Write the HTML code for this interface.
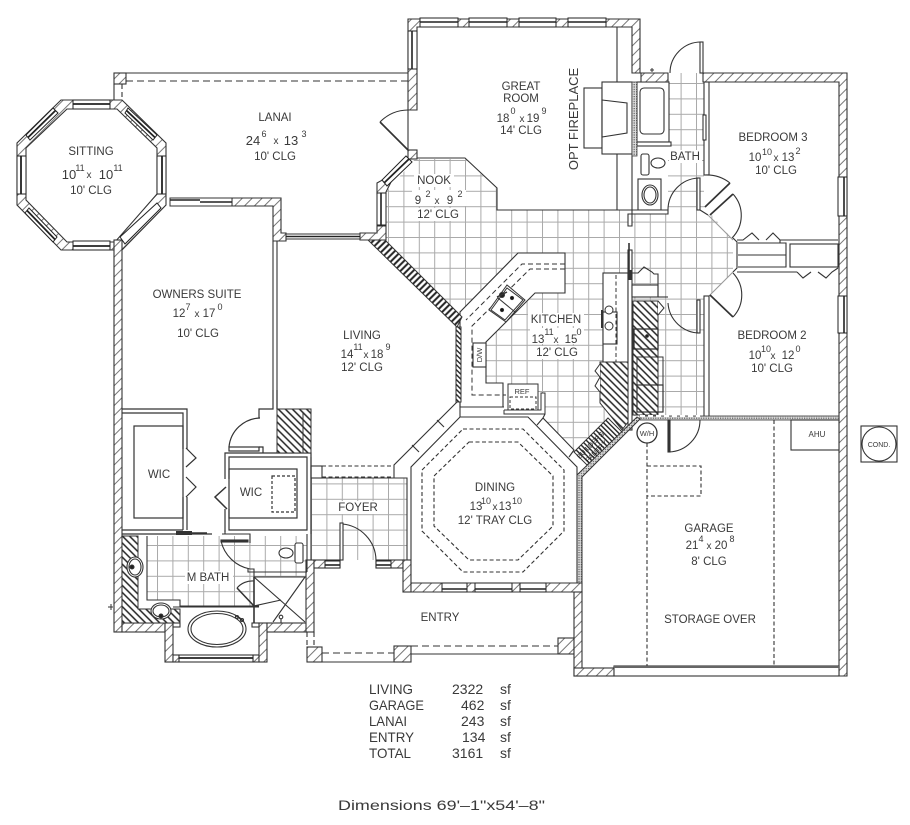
<!DOCTYPE html>
<html><head><meta charset="utf-8"><style>
html,body{margin:0;padding:0;background:#fff;width:910px;height:825px;overflow:hidden}
svg{display:block}
text{font-family:"Liberation Sans",sans-serif;fill:#3a3a3a;font-size:11.5px;text-anchor:middle}
.s{font-size:9px}
.d{font-size:13px}
.t{font-size:14px;text-anchor:start}
</style></head><body>
<svg width="910" height="825" viewBox="0 0 910 825" xmlns="http://www.w3.org/2000/svg">
<defs>
<pattern id="h" width="7" height="7" patternUnits="userSpaceOnUse" patternTransform="rotate(45)"><rect width="7" height="7" fill="#fff"/><line x1="3.500" y1="0" x2="3.500" y2="7" stroke="#777" stroke-width="1"/></pattern>
<pattern id="k" width="5" height="5" patternUnits="userSpaceOnUse" patternTransform="rotate(-45)"><rect width="5" height="5" fill="#fff"/><line x1="2.500" y1="0" x2="2.500" y2="5" stroke="#222" stroke-width="1.500"/></pattern>
<pattern id="b" width="4.500" height="4.500" patternUnits="userSpaceOnUse" patternTransform="rotate(45)"><rect width="5" height="5" fill="#fff"/><line x1="2.250" y1="0" x2="2.250" y2="5" stroke="#222" stroke-width="2"/></pattern>
<pattern id="p" width="3.500" height="3.500" patternUnits="userSpaceOnUse" patternTransform="rotate(-45)"><rect width="4" height="4" fill="#fff"/><line x1="1.750" y1="0" x2="1.750" y2="4" stroke="#222" stroke-width="1.400"/></pattern>
<pattern id="x" width="2.400" height="2.400" patternUnits="userSpaceOnUse"><rect width="2.400" height="2.400" fill="#ddd"/><rect width="1.200" height="1.200" fill="#555"/></pattern>
<pattern id="g" x="3" y="6" width="15.400" height="15.400" patternUnits="userSpaceOnUse"><rect width="16" height="16" fill="#fff"/><path d="M.5 0V16M0 .5H16" stroke="#aaa" stroke-width="1" fill="none"/></pattern>
</defs>
<rect width="910" height="825" fill="#fff"/>

<!-- tile floors -->
<g fill="url(#g)">
<polygon points="386,192 415,159 465,159 497,189 497,210 668,210 668,178 697,178 705,207 733,240 733,272 705,300 705,416 632,416 608,418 574,450 543,418 544,395 486,385 462,317 386,240"/>
<rect x="668" y="73" width="36" height="140"/>
<rect x="311" y="478" width="96" height="82"/>
<polygon points="147,536 307,536 307,577 254,577 254,606 180,606 180,600 147,600"/>
</g>
<!-- label masks over tile -->
<g fill="#fff">
<rect x="414" y="174" width="40" height="13"/><rect x="412" y="190" width="54" height="16"/><rect x="414" y="208" width="48" height="13"/>
<rect x="528" y="313" width="56" height="13"/><rect x="530" y="328" width="54" height="16"/><rect x="533" y="346" width="50" height="13"/>
<rect x="669" y="150" width="33" height="13"/>
<rect x="337" y="501" width="42" height="13"/>
<rect x="185" y="571" width="48" height="13"/>
</g>

<!-- white overlays -->
<g fill="#fff" stroke="#333" stroke-width="1.100">
<rect x="637" y="82" width="32" height="60"/>
<rect x="640" y="88" width="24" height="46" rx="4" fill="none"/>
<rect x="637" y="142" width="34" height="4"/>
<rect x="641" y="154" width="8" height="21" rx="2"/>
<ellipse cx="658" cy="163" rx="7" ry="5"/>
<rect x="638" y="179" width="23" height="31"/>
<ellipse cx="650" cy="195" rx="8" ry="10"/>
<ellipse cx="650" cy="195" rx="6" ry="8" fill="none"/>
<polygon points="632,210 668,210 668,214 632,214"/>
<polygon points="628,214 632,214 632,226 628,226"/>
<polygon points="518,253 565,253 565,293 535,293 486,342 486,383 503,383 503,407 460,407 460,312"/>
<rect x="473" y="343" width="13" height="24"/>
<rect x="603" y="273" width="25" height="90"/>
<rect x="603" y="312" width="14" height="32"/>
<rect x="628" y="250" width="4" height="180" fill="#fff"/>
<rect x="632" y="285" width="26" height="12"/>
<polyline points="632,273 638,273 644,267 652,272 654,274 658,274 658,297" fill="none"/>
</g>
<polyline points="616,275 616,362" fill="none" stroke="#333" stroke-dasharray="4 2.500"/>
<rect x="601" y="310" width="2" height="18" fill="#333"/>
<circle cx="609" cy="310" r="4" fill="#fff" stroke="#333"/><circle cx="609" cy="326" r="4" fill="#fff" stroke="#333"/>
<line x1="629" y1="243" x2="629" y2="270" stroke="#333" stroke-width="1.600"/>
<rect x="628" y="270" width="4" height="10" fill="#333"/>

<!-- kitchen hatch blocks -->
<polygon points="600,362 628,362 628,422 622,430 600,403" fill="url(#k)" stroke="#333"/>
<polyline points="600,364 595,371 600,377 595,386 600,392" fill="#fff" stroke="#333"/>
<rect x="633" y="301" width="25" height="114" fill="url(#k)" stroke="#333"/>
<rect x="634" y="329" width="24" height="20" fill="none" stroke="#333" stroke-width="1.300"/>
<rect x="637" y="357" width="26" height="28" fill="none" stroke="#333"/>
<rect x="637" y="385" width="26" height="27" fill="none" stroke="#333" stroke-width="1.200"/>
<circle cx="647" cy="336" r="1.800" fill="#222"/><polyline points="658,301 664,308 658,315" fill="#fff" stroke="#333"/>
<polygon points="608,418 623,433 587,465 574,452" fill="url(#p)" stroke="#333"/>
<text transform="translate(592,447) rotate(-45)" style="font-size:7px;fill:#222">BUILDERS</text>
<text transform="translate(598,453) rotate(-45)" style="font-size:7px;fill:#222">PANTRY</text>

<!-- kitchen dashes & sink -->
<g fill="none" stroke="#333" stroke-dasharray="5 3">
<polyline points="565,264 522,264 466,320"/>
<polyline points="565,269 530,269 472,326 472,395 506,395"/>
</g>
<g stroke="#333" fill="#fff">
<polygon points="489,310 507,285 525,300 506,322"/>
<polygon points="491,310 507,288 523,300 505,320" fill="none"/>
<line x1="498" y1="298" x2="515" y2="312"/>
<circle cx="502" cy="295" r="2.500" fill="#222"/><circle cx="512" cy="298" r="1.600" fill="#111"/><circle cx="502" cy="310" r="1.600" fill="#111"/>
<line x1="497" y1="297" x2="507" y2="292" stroke-width="1.500"/>
<rect x="508" y="384" width="30" height="26"/>
<rect x="510" y="397" width="26" height="12" fill="none" stroke-dasharray="3 2"/>
<polyline points="504,410 504,414 545,414 545,393 541,393 541,410 504,410" fill="#fff"/>
</g>

<!-- sitting octagon ring -->
<path fill-rule="evenodd" d="M61 100H122L166 143V205L122 250H61L17 205V143ZM67 109L26 148V200L67 242H115L157 194V148L117 109Z" fill="url(#h)" stroke="#333" stroke-width="1.100"/>
<!-- hatched walls -->
<g fill="url(#h)" stroke="#333" stroke-width="1.100">
<polygon points="408,19 640,19 640,73 632,73 632,27 417,27 417,110 408,110"/>
<polygon points="703,73 847,73 847,676 839,676 839,82 703,82"/>
<polygon points="641,73 668,73 668,82 641,82"/>
<rect x="114" y="73" width="12" height="11"/>
<polygon points="360,233 377,233 377,226 386,226 386,240 360,240"/>
<rect x="408" y="150" width="9" height="9"/>
<polygon points="377,183 386,178 391,182 386,192 386,194 377,194"/>
<polygon points="232,198 281,198 281,233 286,233 286,241 273,241 273,206 232,206"/>
<rect x="114" y="240" width="8" height="392"/>
<rect x="122" y="623" width="43" height="9"/>
<rect x="165" y="623" width="8" height="39"/>
<rect x="173" y="655" width="6" height="7"/>
<rect x="253" y="655" width="6" height="7"/>
<rect x="259" y="623" width="8" height="39"/>
<rect x="267" y="623" width="40" height="9"/>
<rect x="306" y="560" width="8" height="72"/>
<rect x="307" y="647" width="15" height="15"/>
<rect x="314" y="560" width="26" height="8"/>
<rect x="376" y="560" width="27" height="8"/>
<rect x="403" y="560" width="8" height="32"/>
<rect x="394" y="646" width="17" height="16"/>
<rect x="558" y="638" width="16" height="16"/>
<polygon points="411,583 582,583 582,592 411,592"/>
<rect x="574" y="592" width="8" height="84"/>
<rect x="574" y="668" width="40" height="8"/>
</g>

<!-- lanai -->
<g fill="none" stroke="#333" stroke-width="1.100">
<polyline points="126,73 408,73"/>
<line x1="114" y1="84" x2="114" y2="100"/>
<line x1="122" y1="84" x2="122" y2="100" stroke-dasharray="5 3"/>
<line x1="126" y1="81" x2="408" y2="81" stroke-dasharray="7 4"/>
</g>
<!-- octagon windows -->
<g stroke="#222" fill="#fff">
<rect x="73" y="100" width="37" height="9"/><line x1="73" y1="104" x2="110" y2="104" stroke-width="1.800"/>
<rect x="73" y="241" width="37" height="9"/><line x1="73" y1="246" x2="110" y2="246" stroke-width="1.800"/>
<rect x="157" y="156" width="9" height="38"/><line x1="162" y1="156" x2="162" y2="194" stroke-width="1.800"/>
<rect x="17" y="156" width="9" height="38"/><line x1="21" y1="156" x2="21" y2="194" stroke-width="1.800"/>
<polygon points="128,108 157,135 153,140 125,113"/><line x1="126.500" y1="110.500" x2="155" y2="137.500" stroke-width="1.800"/>
<polygon points="53,108 26,135 30,140 58,113"/><line x1="55.500" y1="110.500" x2="28" y2="137.500" stroke-width="1.800"/>
<polygon points="29,208 57,237 53,242 25,213"/><line x1="27" y1="210.500" x2="55" y2="239.500" stroke-width="1.800"/>
<polygon points="157,203 120,237 125,244 161,208"/>
</g>
<!-- owners walls -->
<rect x="170" y="198" width="62" height="8" fill="#fff" stroke="#333"/>
<line x1="170" y1="200" x2="200" y2="200" stroke="#222" stroke-width="1.600"/>
<line x1="200" y1="202" x2="232" y2="202" stroke="#222" stroke-width="1.600"/>
<rect x="286" y="234" width="74" height="5" fill="#fff" stroke="#333"/>
<line x1="286" y1="236.500" x2="360" y2="236.500" stroke="#222" stroke-width="1.400"/>
<line x1="273" y1="241" x2="273" y2="390" stroke="#333" stroke-width="1.100"/>
<line x1="277" y1="241" x2="277" y2="409" stroke="#333" stroke-width="1.100"/>

<!-- great room -->
<g stroke="#222" fill="#fff">
<rect x="420" y="18" width="38" height="9"/><line x1="420" y1="22" x2="458" y2="22" stroke-width="1.600"/>
<rect x="469" y="18" width="38" height="9"/><line x1="469" y1="22" x2="507" y2="22" stroke-width="1.600"/>
<rect x="519" y="18" width="37" height="9"/><line x1="519" y1="22" x2="556" y2="22" stroke-width="1.600"/>
<rect x="568" y="18" width="38" height="9"/><line x1="568" y1="22" x2="606" y2="22" stroke-width="1.600"/>
<rect x="408" y="31" width="9" height="38"/><line x1="412" y1="31" x2="412" y2="69" stroke-width="1.600"/>
<rect x="377" y="193" width="9" height="32"/><line x1="381" y1="193" x2="381" y2="225" stroke-width="1.600"/>
<polygon points="406,156 382,180 387,186 412,162"/><line x1="409" y1="159" x2="384" y2="183" stroke-width="1.800"/>
</g>
<g fill="none" stroke="#333" stroke-width="1.100">
<line x1="408" y1="110" x2="408" y2="150"/>
<path d="M408 110A40 40 0 0 0 380 122"/>
<line x1="380" y1="122" x2="408" y2="150" stroke-width="1.700"/>
<polyline points="417,158 465,158 497,188 497,210 632,210"/>
<line x1="617" y1="27" x2="617" y2="210"/>
<line x1="632" y1="154" x2="632" y2="210"/>
<rect x="584" y="88" width="18" height="60" fill="#fff"/>
<rect x="602" y="82" width="30" height="72" fill="#fff"/>
<polygon points="602,100 627,103 627,133 602,137"/>
</g>
<rect x="632" y="82" width="5" height="74" fill="url(#x)" stroke="#444" stroke-width=".8"/>
<line x1="652" y1="68" x2="652" y2="72" stroke="#333"/><line x1="650" y1="70" x2="654" y2="70" stroke="#333"/>

<!-- nook/brick wall -->
<polygon points="368,240 385,240 462,317 457,327" fill="url(#b)" stroke="#333"/>
<rect x="456" y="327" width="5" height="75" fill="url(#p)" stroke="#333"/>

<!-- upper door and bedroom walls -->
<g fill="none" stroke="#333" stroke-width="1.100">
<rect x="700" y="42" width="3" height="31" fill="#fff"/>
<path d="M670 73A31 31 0 0 1 701 42"/>
<rect x="704" y="82" width="5" height="93" fill="#fff"/>
<path d="M705 175A38 38 0 0 1 730 183"/>
<line x1="730" y1="183" x2="705" y2="207" stroke-width="1.700"/>
<line x1="733" y1="194" x2="710" y2="215" stroke-width="1.700"/>
<path d="M733 194A32 32 0 0 1 732 238"/>
<rect x="697" y="178" width="3" height="32" fill="#fff"/>
<path d="M668 210A32 32 0 0 1 698 178"/>
<line x1="700" y1="210" x2="708" y2="215"/>
<line x1="708" y1="215" x2="733" y2="240" stroke="#999"/>
<line x1="733" y1="272" x2="708" y2="297" stroke="#999"/>
<polyline points="733,238 737,242 737,268 733,272"/>
<path d="M733 273A32 32 0 0 1 733 317"/>
<line x1="710" y1="295" x2="733" y2="317" stroke-width="1.700"/>
<rect x="704" y="296" width="5" height="121" fill="#fff"/>
<rect x="697" y="300" width="3" height="33" fill="#fff"/>
<path d="M668 303A32 32 0 0 0 700 333"/>
<line x1="658" y1="297" x2="668" y2="297"/>
<polyline points="737,240 743,240 752,233 759,240"/>
<polyline points="766,240 773,233 780,240 780,243 786,243 786,267 738,267"/>
<line x1="738" y1="243" x2="780" y2="243"/>
<line x1="738" y1="255" x2="786" y2="255"/>
<line x1="780" y1="240" x2="838" y2="240"/>
<rect x="790" y="244" width="48" height="23"/>
<line x1="737" y1="272" x2="797" y2="272"/>
<polyline points="797,272 803,278 811,272"/>
<polyline points="818,272 826,278 832,272 838,268"/>
</g>
<g stroke="#222" fill="#fff">
<rect x="838" y="177" width="9" height="39"/><line x1="844" y1="177" x2="844" y2="216" stroke-width="1.600"/>
<rect x="838" y="296" width="9" height="37"/><line x1="844" y1="296" x2="844" y2="333" stroke-width="1.600"/>
<rect x="703" y="115" width="3" height="25"/>
</g>

<!-- garage -->
<polygon points="577,475 637,417 640,419 582,477 582,583 577,583" fill="url(#x)" stroke="#333"/>
<rect x="640" y="416" width="199" height="4" fill="url(#x)" stroke="#333" stroke-width=".8"/>
<line x1="640" y1="416" x2="700" y2="416" stroke="#fff" stroke-width="2" stroke-dasharray="5 3"/>
<g fill="none" stroke="#333" stroke-width="1.100">
<rect x="668" y="420" width="2" height="32" fill="#333"/>
<path d="M669 452A32 32 0 0 0 700 420"/>
<rect x="791" y="420" width="48" height="30" fill="#fff"/>
<rect x="861" y="426" width="36" height="36"/>
<circle cx="879" cy="444" r="17"/>
<circle cx="647" cy="433" r="10" fill="#fff" stroke-width="1.300"/>
<g stroke-dasharray="4 2.500">
<line x1="647" y1="443" x2="647" y2="666"/>
<line x1="774" y1="420" x2="774" y2="666"/>
<polyline points="647,466 701,466 701,496 647,496"/>
</g>
<rect x="614" y="666" width="225" height="10" fill="#fff"/>
<line x1="614" y1="667" x2="839" y2="667" stroke="#666" stroke-width="2"/>
</g>

<!-- living/dining walls -->
<g fill="none" stroke="#333" stroke-width="1.100">
<polygon points="460,417 528,417 577,467 577,583 411,583 411,467" fill="#fff"/>
<polyline points="457,402 394,465 394,478 407,478 407,560"/>
<polyline points="460,407 504,407"/>
<polyline points="460,402 460,417"/>
<polyline points="545,414 543,418 574,450 569,457"/>
<line x1="437" y1="420" x2="444" y2="427"/>
<line x1="412" y1="445" x2="419" y2="452"/>
<line x1="537" y1="425" x2="543" y2="418"/>
<polygon points="463,429 523,429 564,470 564,531 523,572 463,572 422,531 422,470" stroke-dasharray="4 2.500"/>
<polygon points="469,442 518,442 553,476 553,526 518,560 469,560 434,526 434,476" stroke-dasharray="4 2.500"/>
<polyline points="311,478 394,478"/>
<rect x="311" y="466" width="11" height="12"/>
<line x1="322" y1="466" x2="394" y2="466" stroke-dasharray="4 2.500"/>
<line x1="322" y1="477" x2="394" y2="477" stroke-dasharray="4 2.500"/>
<line x1="311" y1="457" x2="311" y2="560"/>
<path d="M342 524A37 37 0 0 1 376 560"/>
<rect x="340" y="523" width="3" height="37" fill="#fff"/>
<line x1="411" y1="654" x2="558" y2="654"/>
<line x1="411" y1="646" x2="558" y2="646" stroke-dasharray="7 4"/>
<line x1="322" y1="662" x2="394" y2="662"/>
<line x1="322" y1="653" x2="394" y2="653" stroke-dasharray="7 4"/>
<line x1="307" y1="632" x2="307" y2="647" stroke-dasharray="5 3"/>
<line x1="314" y1="632" x2="314" y2="647" stroke-dasharray="5 3"/>
</g>
<g stroke="#222" fill="#fff">
<rect x="442" y="583" width="25" height="9"/><line x1="442" y1="589" x2="467" y2="589" stroke-width="1.600"/>
<rect x="475" y="583" width="37" height="9"/><line x1="475" y1="589" x2="512" y2="589" stroke-width="1.600"/>
<rect x="520" y="583" width="26" height="9"/><line x1="520" y1="589" x2="546" y2="589" stroke-width="1.600"/>
<rect x="325" y="561" width="15" height="7"/><line x1="325" y1="565" x2="340" y2="565" stroke-width="1.600"/>
<rect x="376" y="561" width="15" height="7"/><line x1="376" y1="565" x2="391" y2="565" stroke-width="1.600"/>
</g>

<!-- WICs -->
<g fill="none" stroke="#333" stroke-width="1.200">
<polyline points="122,409 187,409 187,449"/>
<polyline points="122,413 183,413 183,449"/>
<polyline points="186,448 196,458 186,467"/>
<polyline points="186,477 196,487 186,497"/>
<polyline points="183,497 183,530"/><polyline points="187,497 187,530"/>
<rect x="134" y="426" width="49" height="92"/>
<line x1="122" y1="530" x2="183" y2="530"/>
<line x1="122" y1="534" x2="212" y2="534"/>
<polyline points="225,479 225,453 311,453 311,534"/>
<polyline points="229,479 229,457 307,457 307,530 229,530 229,509"/>
<polyline points="225,509 225,532"/>
<rect x="229" y="469" width="68" height="49"/>
<rect x="272" y="476" width="23" height="36" stroke-dasharray="3 2"/>
<polyline points="226,487 215,497 227,509" stroke-width="1.500"/>
<polyline points="273,390 273,409 259,409 259,418"/>
<polyline points="277,390 277,409"/>
<path d="M260 418A32 32 0 0 0 229 447"/>
<rect x="229" y="447" width="30" height="4" fill="#fff"/>
<polyline points="259,447 263,447 263,453"/>
</g>
<rect x="277" y="409" width="34" height="44" fill="url(#k)" stroke="#333"/>
<line x1="303" y1="413" x2="303" y2="453" stroke="#333"/>
<line x1="176" y1="533" x2="207" y2="533" stroke="#333" stroke-width="1.500"/>
<rect x="176" y="531" width="16" height="4" fill="#333"/>

<!-- M bath -->
<polygon points="122,536 138,536 138,609 180,609 180,623 122,623" fill="url(#k)" stroke="#333"/>
<g fill="none" stroke="#333" stroke-width="1.100">
<polyline points="147,536 147,600 180,600 180,606 259,606"/>
<ellipse cx="135" cy="567" rx="8" ry="10" fill="#fff"/><ellipse cx="135" cy="567" rx="6" ry="8"/>
<circle cx="132" cy="567" r="2" fill="#222"/>
<ellipse cx="161" cy="611" rx="10" ry="8" fill="#fff"/><ellipse cx="161" cy="611" rx="8" ry="6"/>
<circle cx="161" cy="616" r="2" fill="#222"/>
<polyline points="222,534 250,534 250,543"/><polyline points="225,530 225,534"/>
<rect x="221" y="540" width="27" height="2" fill="#333"/>
<path d="M221 541A37 37 0 0 0 250 569"/>
<polyline points="248,568 248,572 307,572"/><polyline points="250,569 254,569 254,577 306,577"/>
<line x1="307" y1="534" x2="307" y2="572"/>
<rect x="295" y="543" width="8" height="20" rx="2" fill="#fff"/>
<ellipse cx="286" cy="553" rx="7" ry="5" fill="#fff"/>
<line x1="254" y1="577" x2="305" y2="622"/>
<line x1="305" y1="577" x2="273" y2="622"/>
<line x1="254" y1="606" x2="281" y2="600"/>
<line x1="254" y1="577" x2="254" y2="623" stroke-width="1.600"/>
<line x1="237" y1="588" x2="254" y2="606" stroke-width="1.600"/>
<path d="M237 588A20 20 0 0 1 254 581"/>
<line x1="281" y1="616" x2="281" y2="623"/><circle cx="281" cy="617" r="1.800" fill="#fff"/>
<rect x="252" y="623" width="7" height="4" fill="#fff"/>
<rect x="173" y="623" width="7" height="4" fill="#fff"/>
<ellipse cx="217" cy="629" rx="29" ry="18" fill="#fff"/>
<ellipse cx="217" cy="629" rx="26" ry="15.500"/>
<line x1="235" y1="615" x2="243" y2="621"/><circle cx="237" cy="617" r="1.500"/><circle cx="242" cy="620" r="1.500"/>
<line x1="173" y1="607" x2="259" y2="607"/>
</g>
<g stroke="#222" fill="#fff">
<rect x="179" y="655" width="74" height="7"/><line x1="179" y1="658" x2="253" y2="658" stroke-width="1.800"/>
</g>
<line x1="108" y1="607" x2="113" y2="607" stroke="#333"/><line x1="111" y1="604" x2="111" y2="610" stroke="#333"/>

<!-- labels -->
<text x="91" y="155">SITTING</text>
<text x="69" y="179" class="d">10</text><text x="80" y="171" class="s">11</text><text x="89" y="178" style="font-size:10px">x</text><text x="106" y="179" class="d">10</text><text x="118" y="171" class="s">11</text>
<text x="91" y="194">10'  CLG</text>
<text x="275" y="121">LANAI</text>
<text x="253" y="145" class="d">24</text><text x="264" y="137" class="s">6</text><text x="276" y="144" style="font-size:10px">x</text><text x="291" y="145" class="d">13</text><text x="304" y="137" class="s">3</text>
<text x="275" y="160">10'  CLG</text>
<text x="521" y="90">GREAT</text>
<text x="521" y="102">ROOM</text>
<text x="503" y="122">18</text><text x="513" y="114" class="s">0</text><text x="522" y="122" style="font-size:10px">x</text><text x="533" y="122">19</text><text x="544" y="114" class="s">9</text>
<text x="521" y="134">14'  CLG</text>
<text transform="translate(578,119) rotate(-90)" class="d">OPT  FIREPLACE</text>
<text x="434" y="184">NOOK</text>
<text x="418" y="204">9</text><text x="428" y="197" class="s">2</text><text x="437" y="204" style="font-size:10px">x</text><text x="450" y="204">9</text><text x="460" y="197" class="s">2</text>
<text x="438" y="218">12'  CLG</text>
<text x="773" y="141">BEDROOM  3</text>
<text x="755" y="161">10</text><text x="767" y="155" class="s">10</text><text x="776" y="161" style="font-size:10px">x</text><text x="788" y="161">13</text><text x="798" y="154" class="s">2</text>
<text x="776" y="174">10'  CLG</text>
<text x="685" y="160">BATH</text>
<text x="772" y="339">BEDROOM  2</text>
<text x="755" y="359">10</text><text x="766" y="352" class="s">10</text><text x="773" y="359" style="font-size:10px">x</text><text x="788" y="359">12</text><text x="798" y="352" class="s">0</text>
<text x="772" y="372">10'  CLG</text>
<text x="197" y="298">OWNERS  SUITE</text>
<text x="179" y="317">12</text><text x="188" y="310" class="s">7</text><text x="197" y="317" style="font-size:10px">x</text><text x="209" y="317">17</text><text x="220" y="310" class="s">0</text>
<text x="198" y="337">10'  CLG</text>
<text x="362" y="339">LIVING</text>
<text x="347" y="358">14</text><text x="358" y="350" class="s">11</text><text x="366" y="358" style="font-size:10px">x</text><text x="377" y="358">18</text><text x="388" y="350" class="s">9</text>
<text x="362" y="371">12'  CLG</text>
<text x="556" y="323">KITCHEN</text>
<text x="538" y="343">13</text><text x="549" y="335" class="s">11</text><text x="556" y="343" style="font-size:10px">x</text><text x="571" y="343">15</text><text x="579" y="335" class="s">0</text>
<text x="557" y="356">12'  CLG</text>
<text x="495" y="491">DINING</text>
<text x="476" y="510">13</text><text x="486" y="504" class="s">10</text><text x="495" y="510" style="font-size:10px">x</text><text x="505" y="510">13</text><text x="517" y="504" class="s">10</text>
<text x="495" y="524">12'  TRAY  CLG</text>
<text x="440" y="621">ENTRY</text>
<text x="358" y="511">FOYER</text>
<text x="159" y="478">WIC</text>
<text x="251" y="496">WIC</text>
<text x="208" y="581">M  BATH</text>
<text x="709" y="532">GARAGE</text>
<text x="692" y="549">21</text><text x="701" y="542" class="s">4</text><text x="709" y="549" style="font-size:10px">x</text><text x="721" y="549">20</text><text x="732" y="542" class="s">8</text>
<text x="709" y="565">8'  CLG</text>
<text x="710" y="623">STORAGE  OVER</text>
<text x="817" y="437" style="font-size:8px">AHU</text>
<text x="879" y="447" style="font-size:7px">COND.</text>
<text x="647" y="436" style="font-size:7.500px">W/H</text>
<text x="522" y="394" style="font-size:7.500px">REF</text>
<text transform="translate(482,355) rotate(-90)" style="font-size:7.500px">D/W</text>

<text x="369" y="694" class="t" textLength="44" lengthAdjust="spacingAndGlyphs">LIVING</text><text x="452" y="694" class="t">2322</text><text x="500" y="694" class="t">sf</text>
<text x="369" y="710" class="t" textLength="55" lengthAdjust="spacingAndGlyphs">GARAGE</text><text x="461" y="710" class="t">462</text><text x="500" y="710" class="t">sf</text>
<text x="369" y="726" class="t" textLength="38" lengthAdjust="spacingAndGlyphs">LANAI</text><text x="461" y="726" class="t">243</text><text x="500" y="726" class="t">sf</text>
<text x="369" y="742" class="t" textLength="45" lengthAdjust="spacingAndGlyphs">ENTRY</text><text x="462" y="742" class="t">134</text><text x="500" y="742" class="t">sf</text>
<text x="369" y="758" class="t" textLength="42" lengthAdjust="spacingAndGlyphs">TOTAL</text><text x="452" y="758" class="t">3161</text><text x="500" y="758" class="t">sf</text>
<text x="338" y="810" class="t" textLength="207" lengthAdjust="spacingAndGlyphs">Dimensions  69'–1"x54'–8"</text>
</svg>
</body></html>
